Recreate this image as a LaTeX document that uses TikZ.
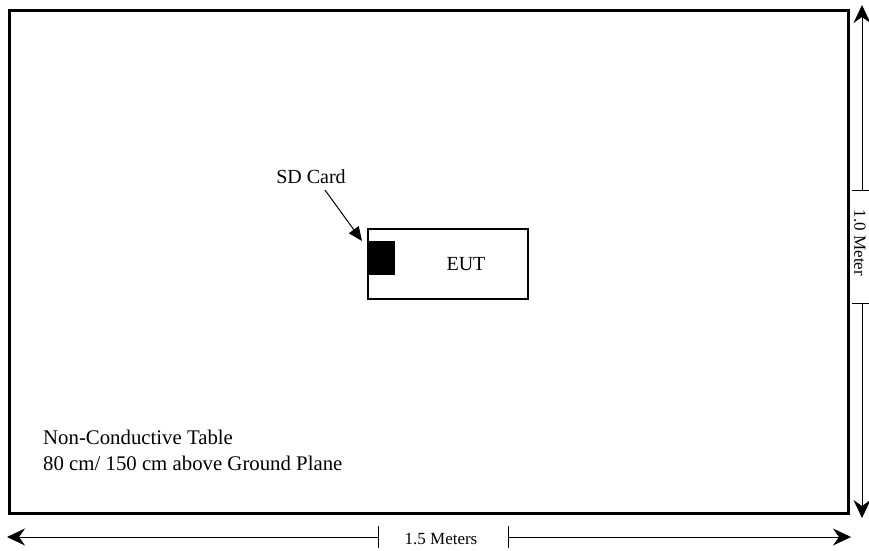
\documentclass[tikz,border=0pt]{standalone}
\usepackage{fontspec}
\setmainfont{Liberation Serif}
\usetikzlibrary{arrows.meta}
\begin{document}
\begin{tikzpicture}[x=1pt,y=-1pt,
  lbl/.style={inner sep=0pt, font=\fontsize{20}{25}\selectfont},
  tbl/.style={inner sep=0pt, font=\fontsize{20.8}{26}\selectfont},
  dimlbl/.style={inner sep=0pt, font=\fontsize{17}{20}\selectfont},
  dimarrow/.style={line width=1pt, -{Stealth[length=18pt,width=17pt,inset=6pt]}},
  tick/.style={line width=1pt}]
\useasboundingbox (0,0) rectangle (869,550);
\draw[line width=3pt] (9,10) rectangle (848,513);
\node[draw, line width=1.2pt, minimum width=160pt, minimum height=70pt, inner sep=0pt] (eut) at (448,264) {};
\node[fill=black, minimum width=27pt, minimum height=34pt, inner sep=0pt, anchor=north west] (sd) at (368,241) {};
\node[lbl] (eutt) at (466,264) {EUT};
\node[lbl] (sdt) at (311,177) {SD Card};
\coordinate (sdtail) at (325,190);
\coordinate (sdtip) at (362,241);
\draw[line width=1pt, -{Triangle[length=14pt,width=12pt]}] (sdtail) -- (sdtip);
\node[tbl, align=left, anchor=west] (table) at (43,450) {Non-Conductive Table\\80 cm/ 150 cm above Ground Plane};
% horizontal dimension
\node[dimlbl] (hl) at (441,539) {1.5 Meters};
\coordinate (ht1) at (378,537);
\coordinate (ht2) at (508,537);
\coordinate (hL) at (7,537);
\coordinate (hR) at (851,537);
\draw[dimarrow] (ht1) -- (hL);
\draw[dimarrow] (ht2) -- (hR);
\draw[tick] (378,526) -- (378,548);
\draw[tick] (508,526) -- (508,548);
% vertical dimension
\node[dimlbl, rotate=-90] (vl) at (860,243) {1.0 Meter};
\coordinate (vt1) at (862,190);
\coordinate (vt2) at (862,303);
\coordinate (vT) at (862,5);
\coordinate (vB) at (862,518);
\draw[dimarrow] (vt1) -- (vT);
\draw[dimarrow] (vt2) -- (vB);
\draw[tick] (852,190) -- (869,190);
\draw[tick] (852,303) -- (869,303);
\end{tikzpicture}
\end{document}
